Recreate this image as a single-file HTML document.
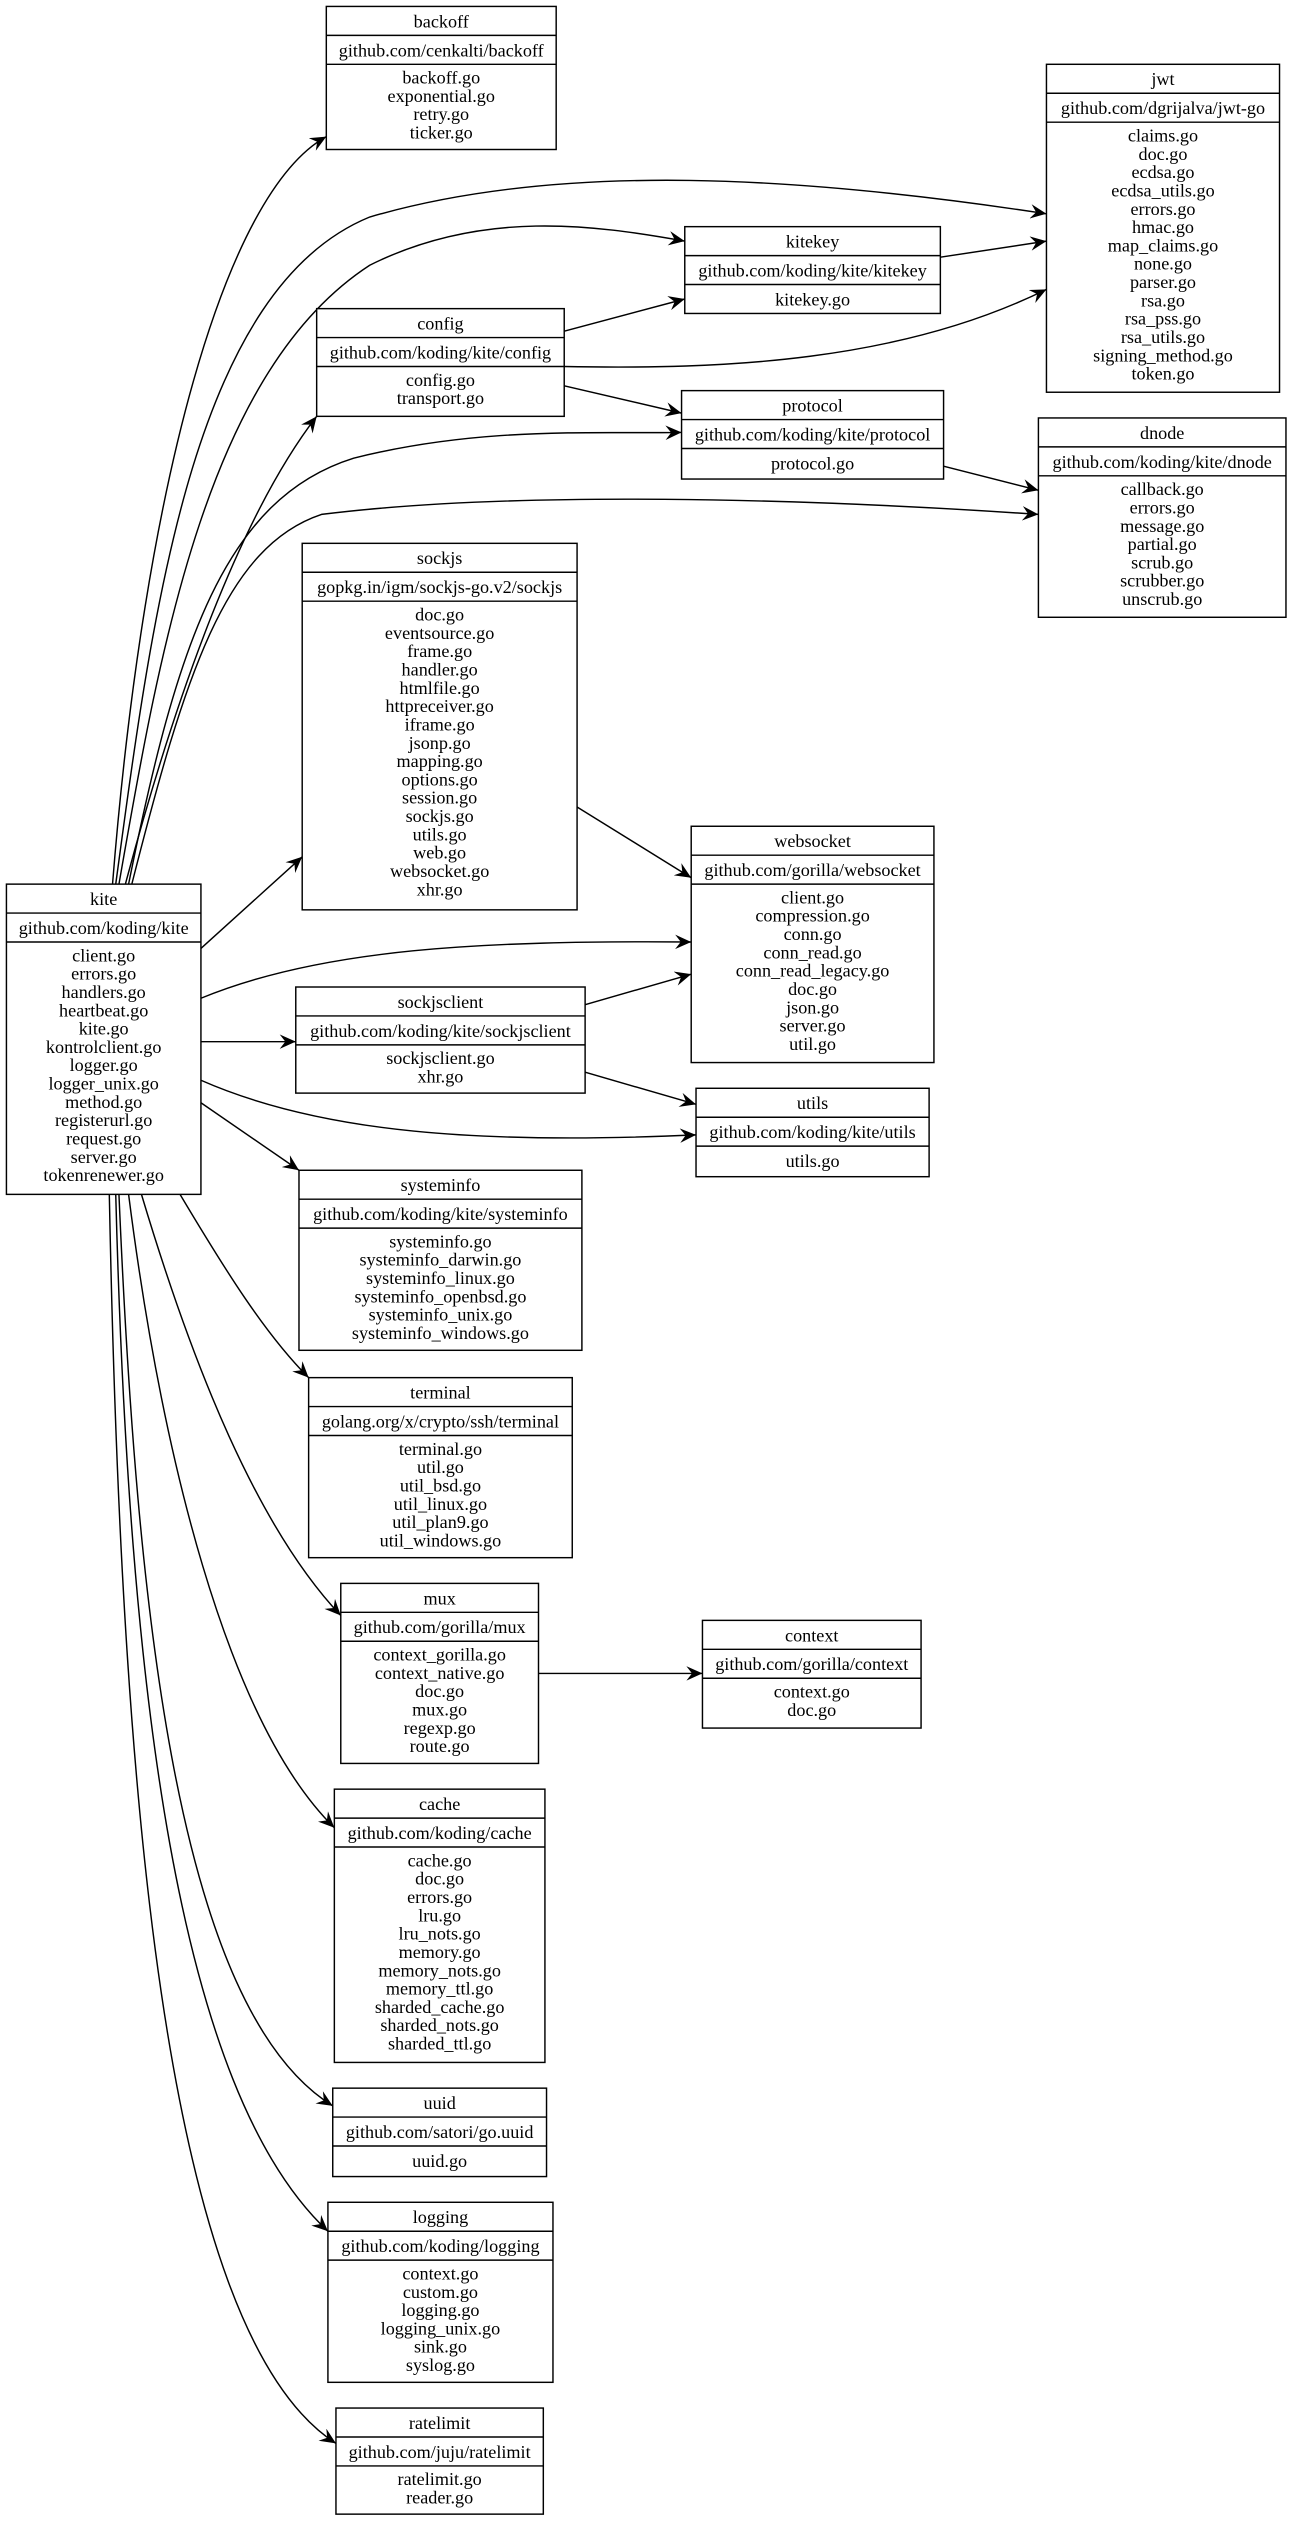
<!DOCTYPE html>
<html><head><meta charset="utf-8"><style>
html,body{margin:0;padding:0;background:#fff;}
svg{display:block;}
text{font-family:"Liberation Serif",serif;font-size:11.3px;fill:#000;text-anchor:middle;}
.b{fill:#fff;stroke:#000;stroke-width:0.9;}
.l{stroke:#000;stroke-width:0.9;fill:none;}
.e{stroke:#000;stroke-width:0.9;fill:none;marker-end:url(#ah);}
</style></head><body>
<svg width="1294" height="2527" viewBox="0 0 805 1572" preserveAspectRatio="none" xmlns="http://www.w3.org/2000/svg">
<defs><marker id="ah" markerWidth="11" markerHeight="9" refX="10" refY="4.5" orient="auto" markerUnits="userSpaceOnUse"><path d="M0,0 L10,4.5 L0,9 L3.5,4.5 z" fill="#000"/></marker></defs>
<rect width="805" height="1572" fill="#fff"/>
<!-- edges -->
<path class="e" d="M70,550 C90,300 140,120 203,85"/>
<path class="e" d="M72,550 C95,380 120,180 230,135 C350,100 500,110 651,133"/>
<path class="e" d="M74,550 C100,400 130,230 230,165 C300,130 370,140 426,150"/>
<path class="e" d="M78,550 C110,430 150,320 197,259"/>
<path class="e" d="M80,550 C110,400 140,310 220,285 C300,265 370,270 424,269"/>
<path class="e" d="M82,550 C115,420 140,340 200,320 C320,305 500,310 646,320"/>
<path class="e" d="M125,590 L188,533"/>
<path class="e" d="M125,621 C200,590 300,585 430,586"/>
<path class="e" d="M125,648 L184,648"/>
<path class="e" d="M125,672 C200,705 300,712 433,706"/>
<path class="e" d="M125,686 L186,728"/>
<path class="e" d="M112,743 C140,790 165,830 192,857"/>
<path class="e" d="M88,743 C120,850 160,950 212,1005"/>
<path class="e" d="M80,743 C100,900 140,1070 208,1137"/>
<path class="e" d="M74,743 C85,1000 110,1250 207,1310"/>
<path class="e" d="M72,743 C80,1050 110,1300 204,1388"/>
<path class="e" d="M68,743 C75,1100 100,1450 209,1520"/>
<path class="e" d="M351,206 L426,186"/>
<path class="e" d="M351,228 C450,230 560,225 651,180"/>
<path class="e" d="M351,240 L424,257"/>
<path class="e" d="M585,160 L651,150"/>
<path class="e" d="M587,290 L646,305"/>
<path class="e" d="M359,502 L430,546"/>
<path class="e" d="M364,625 L430,606"/>
<path class="e" d="M364,667 L433,687"/>
<path class="e" d="M335,1041 L437,1041"/>

<!-- backoff -->
<rect class="b" x="203" y="4" width="143" height="89"/><path class="l" d="M203,22H346M203,40H346"/>
<text x="274.5" y="17">backoff</text><text x="274.5" y="35">github.com/cenkalti/backoff</text>
<text x="274.5" y="52">backoff.go</text><text x="274.5" y="63.4">exponential.go</text><text x="274.5" y="74.8">retry.go</text><text x="274.5" y="86.2">ticker.go</text>

<!-- jwt -->
<rect class="b" x="651" y="40" width="145" height="204"/><path class="l" d="M651,58H796M651,76H796"/>
<text x="723.5" y="53">jwt</text><text x="723.5" y="71">github.com/dgrijalva/jwt-go</text>
<text x="723.5" y="88">claims.go</text><text x="723.5" y="99.4">doc.go</text><text x="723.5" y="110.8">ecdsa.go</text><text x="723.5" y="122.2">ecdsa_utils.go</text><text x="723.5" y="133.6">errors.go</text><text x="723.5" y="145">hmac.go</text><text x="723.5" y="156.4">map_claims.go</text><text x="723.5" y="167.8">none.go</text><text x="723.5" y="179.2">parser.go</text><text x="723.5" y="190.6">rsa.go</text><text x="723.5" y="202">rsa_pss.go</text><text x="723.5" y="213.4">rsa_utils.go</text><text x="723.5" y="224.8">signing_method.go</text><text x="723.5" y="236.2">token.go</text>

<!-- kitekey -->
<rect class="b" x="426" y="141" width="159" height="54"/><path class="l" d="M426,159H585M426,177H585"/>
<text x="505.5" y="154">kitekey</text><text x="505.5" y="172">github.com/koding/kite/kitekey</text><text x="505.5" y="190">kitekey.go</text>

<!-- config -->
<rect class="b" x="197" y="192" width="154" height="67"/><path class="l" d="M197,210H351M197,228H351"/>
<text x="274" y="205">config</text><text x="274" y="223">github.com/koding/kite/config</text>
<text x="274" y="240">config.go</text><text x="274" y="251.4">transport.go</text>

<!-- protocol -->
<rect class="b" x="424" y="243" width="163" height="55"/><path class="l" d="M424,261H587M424,279H587"/>
<text x="505.5" y="256">protocol</text><text x="505.5" y="274">github.com/koding/kite/protocol</text><text x="505.5" y="292">protocol.go</text>

<!-- dnode -->
<rect class="b" x="646" y="260" width="154" height="124"/><path class="l" d="M646,278H800M646,296H800"/>
<text x="723" y="273">dnode</text><text x="723" y="291">github.com/koding/kite/dnode</text>
<text x="723" y="308">callback.go</text><text x="723" y="319.4">errors.go</text><text x="723" y="330.8">message.go</text><text x="723" y="342.2">partial.go</text><text x="723" y="353.6">scrub.go</text><text x="723" y="365">scrubber.go</text><text x="723" y="376.4">unscrub.go</text>

<!-- sockjs -->
<rect class="b" x="188" y="338" width="171" height="228"/><path class="l" d="M188,356H359M188,374H359"/>
<text x="273.5" y="351">sockjs</text><text x="273.5" y="369">gopkg.in/igm/sockjs-go.v2/sockjs</text>
<text x="273.5" y="386">doc.go</text><text x="273.5" y="397.4">eventsource.go</text><text x="273.5" y="408.8">frame.go</text><text x="273.5" y="420.2">handler.go</text><text x="273.5" y="431.6">htmlfile.go</text><text x="273.5" y="443">httpreceiver.go</text><text x="273.5" y="454.4">iframe.go</text><text x="273.5" y="465.8">jsonp.go</text><text x="273.5" y="477.2">mapping.go</text><text x="273.5" y="488.6">options.go</text><text x="273.5" y="500">session.go</text><text x="273.5" y="511.4">sockjs.go</text><text x="273.5" y="522.8">utils.go</text><text x="273.5" y="534.2">web.go</text><text x="273.5" y="545.6">websocket.go</text><text x="273.5" y="557">xhr.go</text>

<!-- websocket -->
<rect class="b" x="430" y="514" width="151" height="147"/><path class="l" d="M430,532H581M430,550H581"/>
<text x="505.5" y="527">websocket</text><text x="505.5" y="545">github.com/gorilla/websocket</text>
<text x="505.5" y="562">client.go</text><text x="505.5" y="573.4">compression.go</text><text x="505.5" y="584.8">conn.go</text><text x="505.5" y="596.2">conn_read.go</text><text x="505.5" y="607.6">conn_read_legacy.go</text><text x="505.5" y="619">doc.go</text><text x="505.5" y="630.4">json.go</text><text x="505.5" y="641.8">server.go</text><text x="505.5" y="653.2">util.go</text>

<!-- kite -->
<rect class="b" x="4" y="550" width="121" height="193"/><path class="l" d="M4,568H125M4,586H125"/>
<text x="64.5" y="563">kite</text><text x="64.5" y="581">github.com/koding/kite</text>
<text x="64.5" y="598">client.go</text><text x="64.5" y="609.4">errors.go</text><text x="64.5" y="620.8">handlers.go</text><text x="64.5" y="632.2">heartbeat.go</text><text x="64.5" y="643.6">kite.go</text><text x="64.5" y="655">kontrolclient.go</text><text x="64.5" y="666.4">logger.go</text><text x="64.5" y="677.8">logger_unix.go</text><text x="64.5" y="689.2">method.go</text><text x="64.5" y="700.6">registerurl.go</text><text x="64.5" y="712">request.go</text><text x="64.5" y="723.4">server.go</text><text x="64.5" y="734.8">tokenrenewer.go</text>

<!-- sockjsclient -->
<rect class="b" x="184" y="614" width="180" height="66"/><path class="l" d="M184,632H364M184,650H364"/>
<text x="274" y="627">sockjsclient</text><text x="274" y="645">github.com/koding/kite/sockjsclient</text>
<text x="274" y="662">sockjsclient.go</text><text x="274" y="673.4">xhr.go</text>

<!-- utils -->
<rect class="b" x="433" y="677" width="145" height="55"/><path class="l" d="M433,695H578M433,713H578"/>
<text x="505.5" y="690">utils</text><text x="505.5" y="708">github.com/koding/kite/utils</text><text x="505.5" y="726">utils.go</text>

<!-- systeminfo -->
<rect class="b" x="186" y="728" width="176" height="112"/><path class="l" d="M186,746H362M186,764H362"/>
<text x="274" y="741">systeminfo</text><text x="274" y="759">github.com/koding/kite/systeminfo</text>
<text x="274" y="776">systeminfo.go</text><text x="274" y="787.4">systeminfo_darwin.go</text><text x="274" y="798.8">systeminfo_linux.go</text><text x="274" y="810.2">systeminfo_openbsd.go</text><text x="274" y="821.6">systeminfo_unix.go</text><text x="274" y="833">systeminfo_windows.go</text>

<!-- terminal -->
<rect class="b" x="192" y="857" width="164" height="112"/><path class="l" d="M192,875H356M192,893H356"/>
<text x="274" y="870">terminal</text><text x="274" y="888">golang.org/x/crypto/ssh/terminal</text>
<text x="274" y="905">terminal.go</text><text x="274" y="916.4">util.go</text><text x="274" y="927.8">util_bsd.go</text><text x="274" y="939.2">util_linux.go</text><text x="274" y="950.6">util_plan9.go</text><text x="274" y="962">util_windows.go</text>

<!-- mux -->
<rect class="b" x="212" y="985" width="123" height="112"/><path class="l" d="M212,1003H335M212,1021H335"/>
<text x="273.5" y="998">mux</text><text x="273.5" y="1016">github.com/gorilla/mux</text>
<text x="273.5" y="1033">context_gorilla.go</text><text x="273.5" y="1044.4">context_native.go</text><text x="273.5" y="1055.8">doc.go</text><text x="273.5" y="1067.2">mux.go</text><text x="273.5" y="1078.6">regexp.go</text><text x="273.5" y="1090">route.go</text>

<!-- context -->
<rect class="b" x="437" y="1008" width="136" height="67"/><path class="l" d="M437,1026H573M437,1044H573"/>
<text x="505" y="1021">context</text><text x="505" y="1039">github.com/gorilla/context</text>
<text x="505" y="1056">context.go</text><text x="505" y="1067.4">doc.go</text>

<!-- cache -->
<rect class="b" x="208" y="1113" width="131" height="170"/><path class="l" d="M208,1131H339M208,1149H339"/>
<text x="273.5" y="1126">cache</text><text x="273.5" y="1144">github.com/koding/cache</text>
<text x="273.5" y="1161">cache.go</text><text x="273.5" y="1172.4">doc.go</text><text x="273.5" y="1183.8">errors.go</text><text x="273.5" y="1195.2">lru.go</text><text x="273.5" y="1206.6">lru_nots.go</text><text x="273.5" y="1218">memory.go</text><text x="273.5" y="1229.4">memory_nots.go</text><text x="273.5" y="1240.8">memory_ttl.go</text><text x="273.5" y="1252.2">sharded_cache.go</text><text x="273.5" y="1263.6">sharded_nots.go</text><text x="273.5" y="1275">sharded_ttl.go</text>

<!-- uuid -->
<rect class="b" x="207" y="1299" width="133" height="55"/><path class="l" d="M207,1317H340M207,1335H340"/>
<text x="273.5" y="1312">uuid</text><text x="273.5" y="1330">github.com/satori/go.uuid</text><text x="273.5" y="1348">uuid.go</text>

<!-- logging -->
<rect class="b" x="204" y="1370" width="140" height="112"/><path class="l" d="M204,1388H344M204,1406H344"/>
<text x="274" y="1383">logging</text><text x="274" y="1401">github.com/koding/logging</text>
<text x="274" y="1418">context.go</text><text x="274" y="1429.4">custom.go</text><text x="274" y="1440.8">logging.go</text><text x="274" y="1452.2">logging_unix.go</text><text x="274" y="1463.6">sink.go</text><text x="274" y="1475">syslog.go</text>

<!-- ratelimit -->
<rect class="b" x="209" y="1498" width="129" height="66"/><path class="l" d="M209,1516H338M209,1534H338"/>
<text x="273.5" y="1511">ratelimit</text><text x="273.5" y="1529">github.com/juju/ratelimit</text>
<text x="273.5" y="1546">ratelimit.go</text><text x="273.5" y="1557.4">reader.go</text>
</svg>
</body></html>
